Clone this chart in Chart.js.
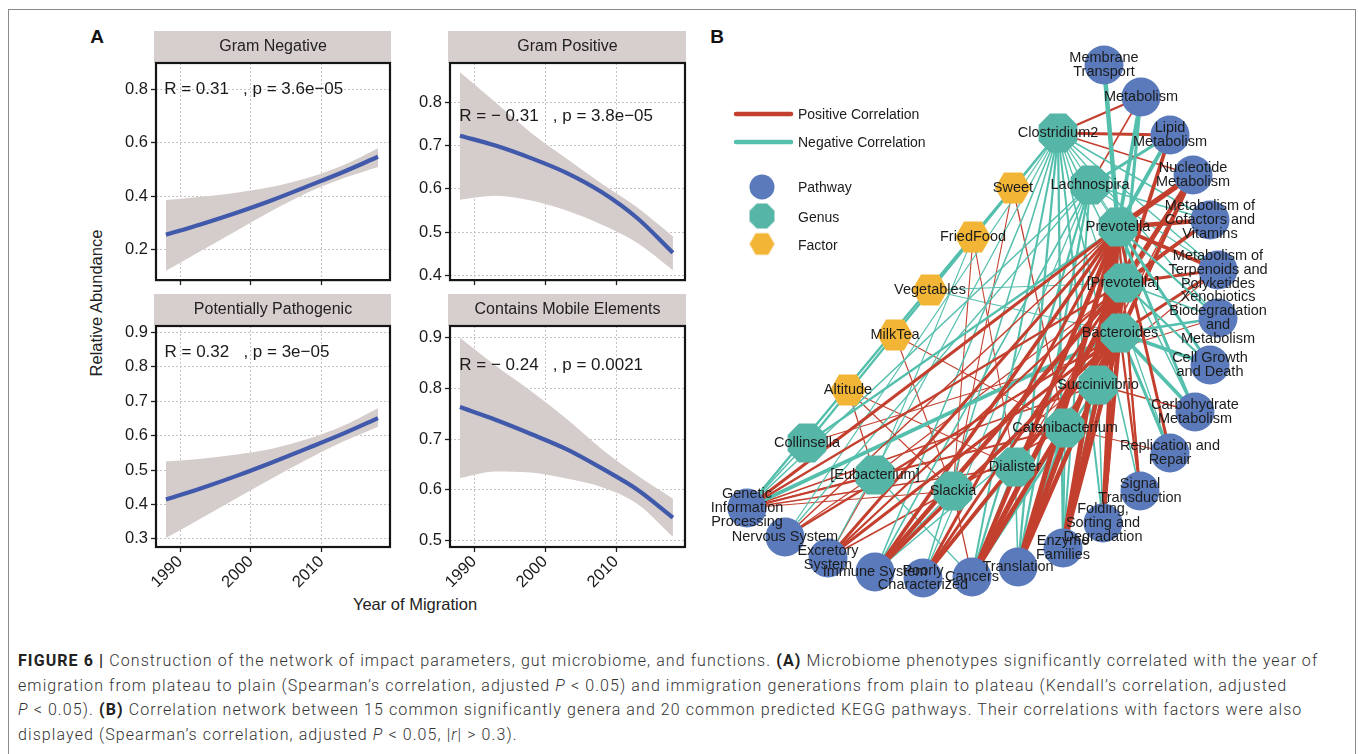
<!DOCTYPE html>
<html>
<head>
<meta charset="utf-8">
<script src="https://cdn.jsdelivr.net/npm/chart.js@4.4.0/dist/chart.umd.min.js"></script>
<style>
html, body { margin: 0; padding: 0; background: #fff; }
body { width: 1358px; height: 754px; position: relative; overflow: hidden; font-family: "Liberation Sans", Arial, sans-serif; color: #222; }
#frame { position: absolute; left: 8px; top: 9px; width: 1346px; height: 800px; border: 1px solid #8a8a8a; }
canvas { position: absolute; }
.txt { position: absolute; white-space: nowrap; transform: translate(-50%, -50%); }
#cap { position: absolute; left: 18px; top: 649px; font-family: Roboto, "Liberation Sans", sans-serif; font-weight: 300; font-size: 16px; line-height: 24.5px; color: #333; }
#cap div { white-space: nowrap; }
#cap b { font-weight: 700; color: #222; }
</style>
</head>
<body>
<div id="frame"></div>
<div class="txt" style="left:97px;top:37px;font-weight:bold;font-size:19px;color:#111">A</div>
<div class="txt" style="left:717px;top:37px;font-weight:bold;font-size:19px;color:#111">B</div>
<div class="txt" style="left:96px;top:303px;font-size:16.5px;transform:translate(-50%,-50%) rotate(-90deg)">Relative Abundance</div>
<div class="txt" style="left:415px;top:604px;font-size:16.5px">Year of Migration</div>

<canvas id="gneg"></canvas>
<canvas id="gpos"></canvas>
<canvas id="path"></canvas>
<canvas id="mobile"></canvas>
<canvas id="net" width="600" height="600" style="left:700px;top:20px"></canvas>

<div id="cap">
<div id="cap1"><b>FIGURE 6 |</b> Construction of the network of impact parameters, gut microbiome, and functions. <b>(A)</b> Microbiome phenotypes significantly correlated with the year of</div>
<div>emigration from plateau to plain (Spearman’s correlation, adjusted <i>P</i> &lt; 0.05) and immigration generations from plain to plateau (Kendall’s correlation, adjusted</div>
<div><i>P</i> &lt; 0.05). <b>(B)</b> Correlation network between 15 common significantly genera and 20 common predicted KEGG pathways. Their correlations with factors were also</div>
<div>displayed (Spearman’s correlation, adjusted <i>P</i> &lt; 0.05, |<i>r</i>| &gt; 0.3).</div>
</div>

<script>
// ---- panel A data ----
var years = [1988, 1993, 1998, 2003, 2008, 2013, 2018];
var yearTicks = [1990, 2000, 2010];

var gramNegFit = [0.255, 0.295, 0.338, 0.385, 0.437, 0.49, 0.548];
var gramNegHi = [0.386, 0.398, 0.413, 0.435, 0.468, 0.515, 0.58];
var gramNegLo = [0.12, 0.195, 0.27, 0.345, 0.413, 0.466, 0.51];

var gramPosFit = [0.723, 0.70, 0.671, 0.637, 0.592, 0.532, 0.452];
var gramPosHi = [0.87, 0.80, 0.73, 0.67, 0.612, 0.557, 0.49];
var gramPosLo = [0.575, 0.584, 0.573, 0.55, 0.517, 0.475, 0.412];

var pathoFit = [0.414, 0.447, 0.483, 0.522, 0.563, 0.605, 0.651];
var pathoHi = [0.525, 0.533, 0.545, 0.562, 0.59, 0.628, 0.68];
var pathoLo = [0.302, 0.36, 0.418, 0.475, 0.531, 0.582, 0.626];

var mobileFit = [0.763, 0.738, 0.71, 0.68, 0.642, 0.6, 0.545];
var mobileHi = [0.9, 0.845, 0.795, 0.74, 0.68, 0.628, 0.582];
var mobileLo = [0.623, 0.636, 0.634, 0.622, 0.605, 0.572, 0.507];

// ---- panel B data ----
var pathwayIds = ['MT', 'ME', 'LM', 'NM', 'CV', 'TP', 'XB', 'CG', 'CM', 'RR', 'ST', 'FS', 'EF', 'TR', 'CA', 'PC', 'IS', 'ES', 'NS', 'GI'];
var pathwayNames = ['Membrane\nTransport', 'Metabolism', 'Lipid\nMetabolism', 'Nucleotide\nMetabolism',
    'Metabolism of\nCofactors and\nVitamins', 'Metabolism of\nTerpenoids and\nPolyketides',
    'Xenobiotics\nBiodegradation\nand\nMetabolism', 'Cell Growth\nand Death', 'Carbohydrate\nMetabolism',
    'Replication and\nRepair', 'Signal\nTransduction', 'Folding,\nSorting and\nDegradation', 'Enzyme\nFamilies',
    'Translation', 'Cancers', 'Poorly\nCharacterized', 'Immune System', 'Excretory\nSystem', 'Nervous System',
    'Genetic\nInformation\nProcessing'];
var pathwayX = [404, 441, 470, 493, 510, 518, 518, 510, 495, 470, 440, 403, 363, 318, 272, 223, 175, 128, 85, 47];
var pathwayY = [45, 77, 115, 155, 200, 250, 298, 345, 392, 433, 471, 503, 528, 547, 557, 558, 552, 538, 517, 488];

var genusIds = ['C2', 'LA', 'PV', 'PB', 'BA', 'SU', 'CT', 'DI', 'SL', 'EU', 'CO'];
var genusNames = ['Clostridium2', 'Lachnospira', 'Prevotella', '[Prevotella]', 'Bacteroides', 'Succinivibrio',
    'Catenibacterium', 'Dialister', 'Slackia', '[Eubacterium]', 'Collinsella'];
var genusX = [358, 390, 418, 423, 420, 398, 365, 315, 253, 175, 107];
var genusY = [113, 165, 207, 263, 313, 365, 408, 447, 471, 455, 423];

var factorIds = ['SW', 'FF', 'VE', 'MK', 'AL'];
var factorNames = ['Sweet', 'FriedFood', 'Vegetables', 'MilkTea', 'Altitude'];
var factorX = [313, 273, 230, 195, 148];
var factorY = [168, 217, 270, 315, 370];

// [from, to, correlation]
var edgeList = [
    ['PV', 'MT', -0.55], ['PV', 'ME', -0.5], ['PV', 'LM', -0.5], ['PV', 'NM', 0.6], ['PV', 'CV', 0.55], ['PV', 'TP', 0.5],
    ['PV', 'XB', -0.4], ['PV', 'CG', -0.45], ['PV', 'CM', -0.45], ['PV', 'RR', 0.45], ['PV', 'ST', 0.4], ['PV', 'FS', 0.55],
    ['PV', 'EF', 0.6], ['PV', 'TR', 0.6], ['PV', 'CA', 0.55], ['PV', 'PC', 0.45], ['PV', 'IS', 0.5], ['PV', 'ES', 0.45],
    ['PV', 'NS', 0.35], ['PV', 'GI', 0.45],
    ['PB', 'ME', -0.45], ['PB', 'LM', 0.5], ['PB', 'NM', 0.55], ['PB', 'CV', 0.5], ['PB', 'TP', 0.45], ['PB', 'XB', -0.35],
    ['PB', 'CG', -0.4], ['PB', 'ST', 0.35], ['PB', 'FS', 0.5], ['PB', 'EF', 0.55], ['PB', 'TR', 0.6], ['PB', 'CA', 0.6],
    ['PB', 'PC', 0.45], ['PB', 'IS', 0.55], ['PB', 'ES', 0.4], ['PB', 'GI', 0.4],
    ['BA', 'NM', 0.5], ['BA', 'TP', 0.45], ['BA', 'XB', -0.4], ['BA', 'CG', -0.5], ['BA', 'CM', -0.5], ['BA', 'RR', -0.45],
    ['BA', 'ST', 0.4], ['BA', 'FS', 0.5], ['BA', 'EF', 0.55], ['BA', 'TR', 0.55], ['BA', 'CA', 0.55], ['BA', 'PC', 0.5],
    ['BA', 'IS', 0.5], ['BA', 'ES', 0.45], ['BA', 'NS', 0.4], ['BA', 'GI', -0.5],
    ['C2', 'ME', 0.4], ['C2', 'LM', 0.45], ['C2', 'NM', 0.35], ['C2', 'CV', -0.35], ['C2', 'TP', -0.35], ['C2', 'XB', -0.33],
    ['C2', 'CG', -0.33], ['C2', 'CM', -0.35], ['C2', 'RR', -0.33], ['C2', 'ST', -0.35], ['C2', 'FS', -0.38], ['C2', 'EF', -0.4],
    ['C2', 'TR', -0.4], ['C2', 'CA', -0.38], ['C2', 'PC', -0.35], ['C2', 'IS', -0.35], ['C2', 'ES', -0.33], ['C2', 'NS', -0.33],
    ['C2', 'GI', -0.35], ['C2', 'CO', -0.4],
    ['LA', 'ME', 0.35], ['LA', 'LM', -0.45], ['LA', 'CV', -0.35], ['LA', 'TP', -0.33], ['LA', 'CG', -0.33], ['LA', 'TR', -0.4],
    ['LA', 'CA', -0.4], ['LA', 'EF', -0.38], ['LA', 'IS', -0.35], ['LA', 'PC', -0.33], ['LA', 'GI', -0.35], ['LA', 'NS', -0.33],
    ['SU', 'TR', -0.45], ['SU', 'EF', -0.42], ['SU', 'CA', -0.4], ['SU', 'FS', -0.35], ['SU', 'NM', 0.4], ['SU', 'CM', 0.35],
    ['SU', 'GI', 0.35], ['SU', 'IS', -0.35],
    ['CT', 'TR', -0.42], ['CT', 'CA', -0.4], ['CT', 'EF', -0.38], ['CT', 'GI', 0.38], ['CT', 'RR', 0.33], ['CT', 'NM', 0.35],
    ['CT', 'ES', 0.35],
    ['DI', 'GI', 0.35], ['DI', 'PC', -0.33], ['DI', 'CA', -0.35], ['DI', 'NM', 0.33], ['DI', 'TR', -0.35],
    ['SL', 'GI', 0.33], ['SL', 'IS', -0.33], ['SL', 'CA', 0.33], ['SL', 'TP', 0.32],
    ['EU', 'GI', 0.35], ['EU', 'NS', 0.33], ['EU', 'ES', 0.33], ['EU', 'CV', 0.33], ['EU', 'CA', -0.33],
    ['CO', 'GI', -0.35], ['CO', 'NM', -0.4], ['CO', 'XB', 0.33],
    ['SW', 'GI', -0.4], ['SW', 'CT', 0.33], ['SW', 'SL', 0.32], ['FF', 'SL', 0.32], ['FF', 'DI', 0.32], ['FF', 'EU', -0.32],
    ['VE', 'PB', -0.32], ['VE', 'BA', -0.32], ['MK', 'SL', 0.32], ['MK', 'CT', 0.32], ['AL', 'SL', 0.32], ['AL', 'DI', 0.32],
    ['AL', 'EU', 0.33]
];

var FONT = '"Liberation Sans", Arial, sans-serif';
var RED = '#c3402f';
var TEAL = '#55bfad';

// ---------------- panel A ----------------
function makePanel(id, title, note, notePos, box, yMin, yMax, yTicks, fit, hi, lo, showX) {
    var stripH = 32, leftW = 72, rightW = 8, bottomH = showX ? 56 : 10;
    var cv = document.getElementById(id);
    cv.width = (box[2] - box[0]) + leftW + rightW;
    cv.height = stripH + (box[3] - box[1]) + bottomH;
    cv.style.left = (box[0] - leftW) + 'px';
    cv.style.top = (box[1] - stripH) + 'px';

    var panelDeco = {
        id: 'deco',
        beforeDraw: function (chart) {
            var a = chart.chartArea, ctx = chart.ctx;
            ctx.save();
            ctx.fillStyle = '#d7cfcd';
            ctx.fillRect(a.left - 2, a.top - stripH, a.right - a.left + 3, stripH);
            ctx.fillStyle = '#222';
            ctx.font = '16px ' + FONT;
            ctx.textAlign = 'center';
            ctx.textBaseline = 'middle';
            ctx.fillText(title, (a.left + a.right) / 2, a.top - stripH / 2);
            ctx.restore();
        },
        afterDraw: function (chart) {
            var a = chart.chartArea, ctx = chart.ctx;
            ctx.save();
            ctx.strokeStyle = '#151515';
            ctx.lineWidth = 2.2;
            ctx.strokeRect(a.left, a.top, a.right - a.left, a.bottom - a.top);
            ctx.fillStyle = '#1a1a1a';
            ctx.font = '17px ' + FONT;
            ctx.textBaseline = 'middle';
            ctx.fillText(note, chart.scales.x.getPixelForValue(notePos[0]), chart.scales.y.getPixelForValue(notePos[1]));
            ctx.restore();
        }
    };

    var tickFont = { family: FONT, size: 16.5 };
    new Chart(cv, {
        type: 'line',
        data: {
            labels: years,
            datasets: [
                { data: years.map(function (x, i) { return { x: x, y: fit[i] }; }), borderColor: '#4059ab', borderWidth: 4.2,
                    pointRadius: 0, fill: false, cubicInterpolationMode: 'monotone', order: 0 },
                { data: years.map(function (x, i) { return { x: x, y: hi[i] }; }), borderWidth: 0, pointRadius: 0,
                    backgroundColor: '#d5cdcb', fill: '+1', cubicInterpolationMode: 'monotone', order: 1 },
                { data: years.map(function (x, i) { return { x: x, y: lo[i] }; }), borderWidth: 0, pointRadius: 0,
                    fill: false, cubicInterpolationMode: 'monotone', order: 1 }
            ]
        },
        options: {
            responsive: false,
            animation: false,
            devicePixelRatio: 1,
            layout: { autoPadding: false, padding: { top: stripH, right: rightW, left: 0, bottom: 0 } },
            plugins: { legend: { display: false }, tooltip: { enabled: false } },
            scales: {
                x: {
                    type: 'linear', min: 1986.6, max: 2019.7,
                    afterBuildTicks: function (s) { s.ticks = yearTicks.map(function (v) { return { value: v }; }); },
                    afterFit: function (s) { s.height = bottomH; },
                    ticks: { display: showX, minRotation: 45, maxRotation: 45, font: tickFont, color: '#1a1a1a', padding: 0,
                        callback: function (v) { return String(v); } },
                    grid: { color: '#c4c4c4', lineWidth: 1, tickLength: 5, tickColor: '#222', tickWidth: 1.3 },
                    border: { display: false, dash: [2, 2] }
                },
                y: {
                    min: yMin, max: yMax,
                    afterBuildTicks: function (s) { s.ticks = yTicks.map(function (v) { return { value: v }; }); },
                    afterFit: function (s) { s.width = leftW; },
                    ticks: { font: tickFont, color: '#1a1a1a', padding: 3,
                        callback: function (v) { return v.toFixed(1); } },
                    grid: { color: '#c4c4c4', lineWidth: 1, tickLength: 5, tickColor: '#222', tickWidth: 1.3 },
                    border: { display: false, dash: [2, 2] }
                }
            }
        },
        plugins: [panelDeco]
    });
}

makePanel('gneg', 'Gram Negative', 'R = 0.31   , p = 3.6e\u221205', [1987.75, 0.8],
    [156, 63, 390, 283], 0.085, 0.9, [0.2, 0.4, 0.6, 0.8], gramNegFit, gramNegHi, gramNegLo, false);
makePanel('gpos', 'Gram Positive', 'R = \u2212 0.31   , p = 3.8e\u221205', [1987.9, 0.768],
    [450, 63, 685, 283], 0.389, 0.891, [0.4, 0.5, 0.6, 0.7, 0.8], gramPosFit, gramPosHi, gramPosLo, false);
makePanel('path', 'Potentially Pathogenic', 'R = 0.32   , p = 3e\u221205', [1987.8, 0.842],
    [156, 326, 390, 547], 0.276, 0.919, [0.3, 0.4, 0.5, 0.6, 0.7, 0.8, 0.9], pathoFit, pathoHi, pathoLo, true);
makePanel('mobile', 'Contains Mobile Elements', 'R = \u2212 0.24   , p = 0.0021', [1987.9, 0.845],
    [450, 326, 685, 547], 0.487, 0.923, [0.5, 0.6, 0.7, 0.8, 0.9], mobileFit, mobileHi, mobileLo, true);

// ---------------- panel B ----------------
function polyImage(n, r, color, rot) {
    var c = document.createElement('canvas');
    var s = Math.ceil(r * 2) + 2;
    c.width = s; c.height = s;
    var g = c.getContext('2d');
    g.fillStyle = color;
    g.beginPath();
    for (var i = 0; i < n; i++) {
        var a = rot + i * 2 * Math.PI / n;
        var px = s / 2 + r * Math.cos(a), py = s / 2 + r * Math.sin(a);
        if (i) g.lineTo(px, py); else g.moveTo(px, py);
    }
    g.closePath();
    g.fill();
    return c;
}

var BLUE = '#5a7abb', GREEN = '#55b5a6', ORANGE = '#f2b535';
var octagon = polyImage(8, 21, GREEN, Math.PI / 8);
var hexagon = polyImage(6, 18, ORANGE, 0);

var nodes = {};
pathwayIds.forEach(function (k, i) { nodes[k] = { x: pathwayX[i], y: pathwayY[i], name: pathwayNames[i] }; });
genusIds.forEach(function (k, i) { nodes[k] = { x: genusX[i], y: genusY[i], name: genusNames[i] }; });
factorIds.forEach(function (k, i) { nodes[k] = { x: factorX[i], y: factorY[i], name: factorNames[i] }; });

var netSets = [
    { data: pathwayIds.map(function (k) { return { x: nodes[k].x, y: nodes[k].y }; }), pointStyle: 'circle', pointRadius: 19.5,
        backgroundColor: BLUE, borderWidth: 0, order: 0 },
    { data: genusIds.map(function (k) { return { x: nodes[k].x, y: nodes[k].y }; }), pointStyle: octagon, pointRadius: 20,
        borderWidth: 0, order: 0 },
    { data: factorIds.map(function (k) { return { x: nodes[k].x, y: nodes[k].y }; }), pointStyle: hexagon, pointRadius: 18,
        borderWidth: 0, order: 0 }
];
edgeList.forEach(function (e) {
    var a = nodes[e[0]], b = nodes[e[1]], r = e[2];
    netSets.push({
        data: [{ x: a.x, y: a.y }, { x: b.x, y: b.y }],
        showLine: true, pointRadius: 0, fill: false, order: 1,
        borderColor: r > 0 ? RED : TEAL,
        borderWidth: 0.8 + (Math.abs(r) - 0.3) * 15
    });
});

var netDeco = {
    id: 'netDeco',
    afterDatasetsDraw: function (chart) {
        var ctx = chart.ctx, sx = chart.scales.x, sy = chart.scales.y;
        ctx.save();
        ctx.fillStyle = '#1c1c1c';
        ctx.font = '14.5px ' + FONT;
        ctx.textAlign = 'center';
        ctx.textBaseline = 'middle';
        Object.keys(nodes).forEach(function (k) {
            var n = nodes[k], lines = n.name.split('\n'), lh = 14;
            var px = sx.getPixelForValue(n.x), py = sy.getPixelForValue(n.y) - (lines.length - 1) * lh / 2;
            lines.forEach(function (t, i) { ctx.fillText(t, px, py + i * lh); });
        });
        ctx.restore();
    },
    afterDraw: function (chart) {
        var ctx = chart.ctx;
        ctx.save();
        ctx.lineCap = 'round';
        ctx.lineWidth = 4.5;
        ctx.strokeStyle = RED;
        ctx.beginPath(); ctx.moveTo(36, 94); ctx.lineTo(91, 94); ctx.stroke();
        ctx.strokeStyle = TEAL;
        ctx.beginPath(); ctx.moveTo(36, 122); ctx.lineTo(91, 122); ctx.stroke();
        ctx.fillStyle = BLUE;
        ctx.beginPath(); ctx.arc(62, 167, 12.5, 0, Math.PI * 2); ctx.fill();
        var oc = polyImage(8, 13.5, GREEN, Math.PI / 8), hx = polyImage(6, 12.5, ORANGE, 0);
        ctx.drawImage(oc, 62 - oc.width / 2, 196 - oc.height / 2);
        ctx.drawImage(hx, 62 - hx.width / 2, 224 - hx.height / 2);
        ctx.fillStyle = '#1c1c1c';
        ctx.font = '14px ' + FONT;
        ctx.textBaseline = 'middle';
        ctx.fillText('Positive Correlation', 98, 95);
        ctx.fillText('Negative Correlation', 98, 123);
        ctx.fillText('Pathway', 98, 168);
        ctx.fillText('Genus', 98, 198);
        ctx.fillText('Factor', 98, 226);
        ctx.restore();
    }
};

new Chart(document.getElementById('net'), {
    type: 'scatter',
    data: { datasets: netSets },
    options: {
        responsive: false,
        animation: false,
        devicePixelRatio: 1,
        layout: { autoPadding: false, padding: 0 },
        plugins: { legend: { display: false }, tooltip: { enabled: false } },
        scales: {
            x: { type: 'linear', min: 0, max: 600, display: false },
            y: { type: 'linear', min: 0, max: 600, reverse: true, display: false }
        }
    },
    plugins: [netDeco]
});

// fit caption width to the original line length
var cap1 = document.getElementById('cap1');
var span = document.createElement('span');
span.innerHTML = cap1.innerHTML;
cap1.innerHTML = '';
cap1.appendChild(span);
var w1 = span.getBoundingClientRect().width;
var chars = span.textContent.length;
document.getElementById('cap').style.letterSpacing = ((1300 - w1) / chars) + 'px';
</script>
</body>
</html>
